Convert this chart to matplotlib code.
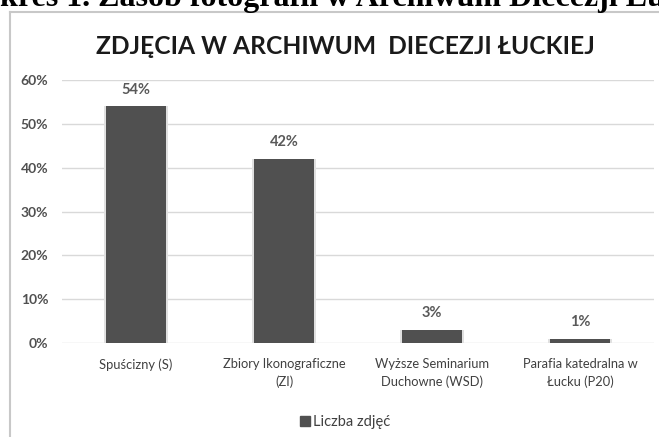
import matplotlib.pyplot as plt
from matplotlib.lines import Line2D
from matplotlib.patches import Patch

categories = ["Spuścizny (S)", "Zbiory Ikonograficzne\n(ZI)",
              "Wyższe Seminarium\nDuchowne (WSD)", "Parafia katedralna w\nŁucku (P20)"]
values = [0.54, 0.42, 0.03, 0.01]
value_labels = ["54%", "42%", "3%", "1%"]
yticks = [0, 0.1, 0.2, 0.3, 0.4, 0.5, 0.6]
ytick_labels = ["0%", "10%", "20%", "30%", "40%", "50%", "60%"]
title = "ZDJĘCIA W ARCHIWUM  DIECEZJI ŁUCKIEJ"
series_name = "Liczba zdjęć"
header = "kres 1. Zasób fotografii w Archiwum Diecezji Łuckiej"

W, H = 659, 437
fig = plt.figure(figsize=(W / 100, H / 100), dpi=100)
fig.patch.set_facecolor("white")

ax = fig.add_axes([62 / W, 1 - 343 / H, 592 / W, 263 / H])

x = range(len(categories))
# soft shadow around the bars
ax.bar(x, values, width=0.43, color="#e0e0e0", zorder=2)
ax.bar(x, values, width=0.4, color="#505050", zorder=3)

for i, (v, lab) in enumerate(zip(values, value_labels)):
    ax.annotate(lab, (i, v), xytext=(0, 7), textcoords="offset points",
                ha="center", va="bottom", fontsize=10.5, color="#595959",
                fontfamily="Lato", fontweight="bold")

ax.set_xlim(-0.5, len(categories) - 0.5)
ax.set_ylim(0, 0.6)
ax.set_yticks(yticks)
ax.set_yticklabels(ytick_labels, fontsize=10, color="#505050", fontfamily="Lato",
                   fontweight="bold")
ax.set_xticks(list(x))
ax.set_xticklabels(categories, fontsize=9.3, color="#404040", fontfamily="Lato",
                   linespacing=1.45)
ax.tick_params(axis="both", length=0)
ax.tick_params(axis="y", pad=10)
ax.tick_params(axis="x", pad=11)
ax.grid(axis="y", color="#d9d9d9", linewidth=1, zorder=0)
for s in ax.spines.values():
    s.set_visible(False)
ax.set_axisbelow(True)

fig.text(345 / W, 1 - 47 / H, title, ha="center", va="center",
         fontsize=17.7, fontweight="bold", color="#1a1a1a", fontfamily="Lato")

fig.legend(handles=[Patch(color="#505050")], labels=[series_name],
           loc="center", bbox_to_anchor=(345 / W, 1 - 422 / H), frameon=False,
           handlelength=0.7, handleheight=0.7, handletextpad=0.2,
           prop={"family": "Lato", "size": 10.5}, labelcolor="#404040")

# chart border (partly outside the picture)
fig.add_artist(Line2D([10 / W, 10 / W], [0, 1 - 12 / H], color="#c8c8c8", lw=1.5))
fig.add_artist(Line2D([10 / W, 1], [1 - 12 / H, 1 - 12 / H], color="#c8c8c8", lw=1.5))

# cut-off caption above the chart
fig.text(0, 1 - 6 / H, header, ha="left", va="baseline", fontsize=23,
         fontweight="bold", fontfamily="Liberation Serif", color="black")

fig.savefig("out.png", dpi=100)
